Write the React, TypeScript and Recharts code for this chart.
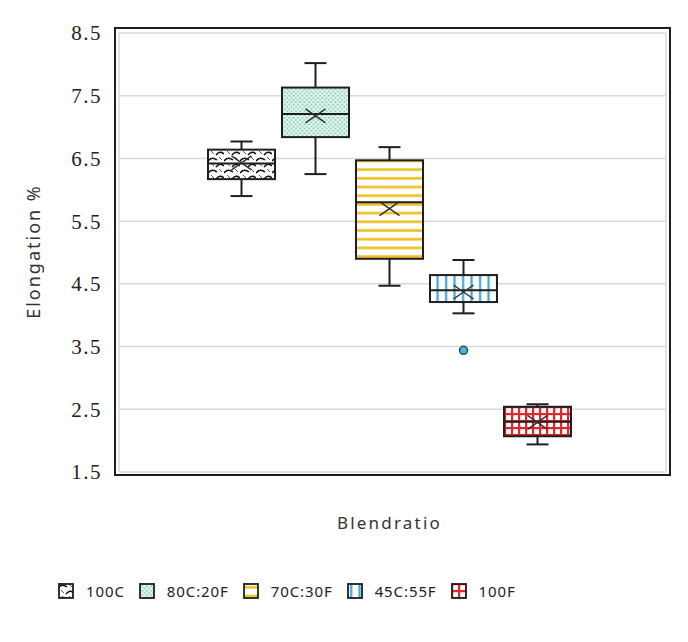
import React from "react";
import { ComposedChart, Bar, XAxis, YAxis, CartesianGrid } from "recharts";

const seriesNames = ["100C", "80C:20F", "70C:30F", "45C:55F", "100F"];
const minValues = [5.9, 6.25, 4.47, 4.03, 1.94];
const q1Values = [6.17, 6.84, 4.9, 4.21, 2.07];
const medianValues = [6.42, 7.21, 5.8, 4.4, 2.3];
const q3Values = [6.64, 7.63, 6.47, 4.64, 2.54];
const maxValues = [6.77, 8.02, 6.68, 4.88, 2.58];
const meanValues = [6.43, 7.18, 5.7, 4.37, 2.29];
const outlierValues = [[], [], [], [3.44], []];
const yTicks = [1.5, 2.5, 3.5, 4.5, 5.5, 6.5, 7.5, 8.5];

const data = seriesNames.map((name, i) => ({
  name,
  range: [minValues[i], maxValues[i]],
  min: minValues[i],
  q1: q1Values[i],
  median: medianValues[i],
  q3: q3Values[i],
  max: maxValues[i],
  mean: meanValues[i],
  outliers: outlierValues[i],
}));

const patternIds: Record<string, string> = {
  "100C": "pat-shingle",
  "80C:20F": "pat-dots",
  "70C:30F": "pat-hlines",
  "45C:55F": "pat-vlines",
  "100F": "pat-grid",
};

const INK = "#1e1e1e";
const LABEL_FONT = "'Noto Sans', 'DejaVu Sans', sans-serif";

function Patterns() {
  return (
    <svg width={0} height={0} style={{ position: "absolute" }}>
      <defs>
        <pattern id="pat-shingle" patternUnits="userSpaceOnUse" width={16} height={12}>
          <rect width={16} height={12} fill="#fff" />
          <path d="M0 5 Q4 0 9 4 M8 11 Q12 6 16 10" stroke="#111" strokeWidth={1.6} fill="none" />
          <path d="M11 1 L14 4 M3 7 L6 10" stroke="#555" strokeWidth={1} fill="none" />
        </pattern>
        <pattern id="pat-dots" patternUnits="userSpaceOnUse" width={4.4} height={4.4}>
          <rect width={4.4} height={4.4} fill="#dcf2ea" />
          <circle cx={1.1} cy={1.1} r={0.75} fill="#5cb89c" />
          <circle cx={3.3} cy={3.3} r={0.75} fill="#5cb89c" />
        </pattern>
        <pattern id="pat-hlines" patternUnits="userSpaceOnUse" width={9} height={8.7}>
          <rect width={9} height={8.7} fill="#fff" />
          <rect y={3} width={9} height={2.6} fill="#f0c020" />
        </pattern>
        <pattern id="pat-vlines" patternUnits="userSpaceOnUse" width={8.5} height={9}>
          <rect width={8.5} height={9} fill="#fff" />
          <rect x={3} width={2.2} height={9} fill="#3aa6d6" />
        </pattern>
        <pattern id="pat-grid" patternUnits="userSpaceOnUse" width={7} height={7}>
          <rect width={7} height={7} fill="#fff" />
          <rect width={2.2} height={7} fill="#e3262a" />
          <rect width={7} height={2.2} fill="#e3262a" />
        </pattern>
      </defs>
    </svg>
  );
}

function BoxShape(props: any) {
  const { x, y, width, height, payload } = props;
  const top = Math.min(y, y + height);
  const h = Math.abs(height);
  const ppu = h / (payload.max - payload.min);
  const yOf = (v: number) => top + (payload.max - v) * ppu;
  const cx = x + width / 2;
  const cap = 11;
  const ym = yOf(payload.mean);
  return (
    <g>
      <line x1={cx} x2={cx} y1={yOf(payload.max)} y2={yOf(payload.q3)} stroke={INK} strokeWidth={2} />
      <line x1={cx} x2={cx} y1={yOf(payload.q1)} y2={yOf(payload.min)} stroke={INK} strokeWidth={2} />
      <line x1={cx - cap} x2={cx + cap} y1={yOf(payload.max)} y2={yOf(payload.max)} stroke={INK} strokeWidth={2} />
      <line x1={cx - cap} x2={cx + cap} y1={yOf(payload.min)} y2={yOf(payload.min)} stroke={INK} strokeWidth={2} />
      <rect
        x={x}
        y={yOf(payload.q3)}
        width={width}
        height={yOf(payload.q1) - yOf(payload.q3)}
        fill={`url(#${patternIds[payload.name]})`}
        stroke={INK}
        strokeWidth={2}
      />
      <line x1={x} x2={x + width} y1={yOf(payload.median)} y2={yOf(payload.median)} stroke={INK} strokeWidth={2} />
      <line x1={cx - 10} x2={cx + 10} y1={ym - 7} y2={ym + 7} stroke="#333" strokeWidth={1.5} />
      <line x1={cx - 10} x2={cx + 10} y1={ym + 7} y2={ym - 7} stroke="#333" strokeWidth={1.5} />
      {payload.outliers.map((o: number, i: number) => (
        <circle key={i} cx={cx} cy={yOf(o)} r={4} fill="#4fb3d6" stroke="#1f4e79" strokeWidth={1.5} />
      ))}
    </g>
  );
}

function YLabel(props: any) {
  const { viewBox } = props;
  const cx = viewBox.x + 33;
  const cy = viewBox.y + viewBox.height / 2 - 1;
  return (
    <text
      x={cx}
      y={cy}
      transform={`rotate(-90 ${cx} ${cy})`}
      textAnchor="middle"
      dominantBaseline="central"
      fontFamily={LABEL_FONT}
      fontSize={18}
      letterSpacing={2}
      fill="#333"
    >
      Elongation %
    </text>
  );
}

function XLabel(props: any) {
  const { viewBox } = props;
  return (
    <text
      x={viewBox.x + viewBox.width / 2 - 3}
      y={viewBox.y + 50}
      textAnchor="middle"
      dominantBaseline="central"
      fontFamily={LABEL_FONT}
      fontSize={17}
      letterSpacing={2.2}
      fill="#333"
    >
      Blendratio
    </text>
  );
}

function LegendRow() {
  return (
    <div
      style={{
        position: "absolute",
        top: 581,
        left: 58,
        display: "flex",
        alignItems: "center",
        fontFamily: LABEL_FONT,
        fontSize: 15,
        letterSpacing: 0.9,
        color: "#222",
      }}
    >
      {seriesNames.map((name) => (
        <div key={name} style={{ display: "flex", alignItems: "center", marginRight: 14 }}>
          <svg width={16} height={16} style={{ marginRight: 12 }}>
            <rect x={1} y={1} width={14} height={14} fill={`url(#${patternIds[name]})`} stroke={INK} strokeWidth={1.8} />
          </svg>
          <span>{name}</span>
        </div>
      ))}
    </div>
  );
}

export default function App() {
  return (
    <div style={{ position: "absolute", left: 0, top: 0, width: 688, height: 642, background: "#fff" }}>
      <Patterns />
      <ComposedChart width={688} height={642} data={data} margin={{ top: 33, right: 22, bottom: 0, left: 0 }}>
        <CartesianGrid
          stroke="#d9d9d9"
          strokeWidth={1.5}
          verticalCoordinatesGenerator={({ offset }: any) => [offset.left, offset.left + offset.width]}
        />
        <XAxis
          dataKey="name"
          height={170}
          tick={false}
          tickLine={false}
          axisLine={false}
          padding={{ left: 85, right: 92 }}
          label={XLabel}
        />
        <YAxis
          type="number"
          domain={[1.5, 8.5]}
          ticks={yTicks}
          width={119}
          tickLine={false}
          axisLine={false}
          tickSize={0}
          tickMargin={17}
          tick={{ fill: "#222", fontSize: 21, fontFamily: "'Liberation Serif', serif", letterSpacing: 1.5 }}
          label={YLabel}
        />
        <Bar dataKey="range" barSize={67} shape={BoxShape} isAnimationActive={false} />
      </ComposedChart>
      <div
        style={{
          position: "absolute",
          left: 114,
          top: 27,
          width: 557,
          height: 449,
          boxSizing: "border-box",
          border: `2px solid ${INK}`,
          pointerEvents: "none",
        }}
      />
      <LegendRow />
    </div>
  );
}
